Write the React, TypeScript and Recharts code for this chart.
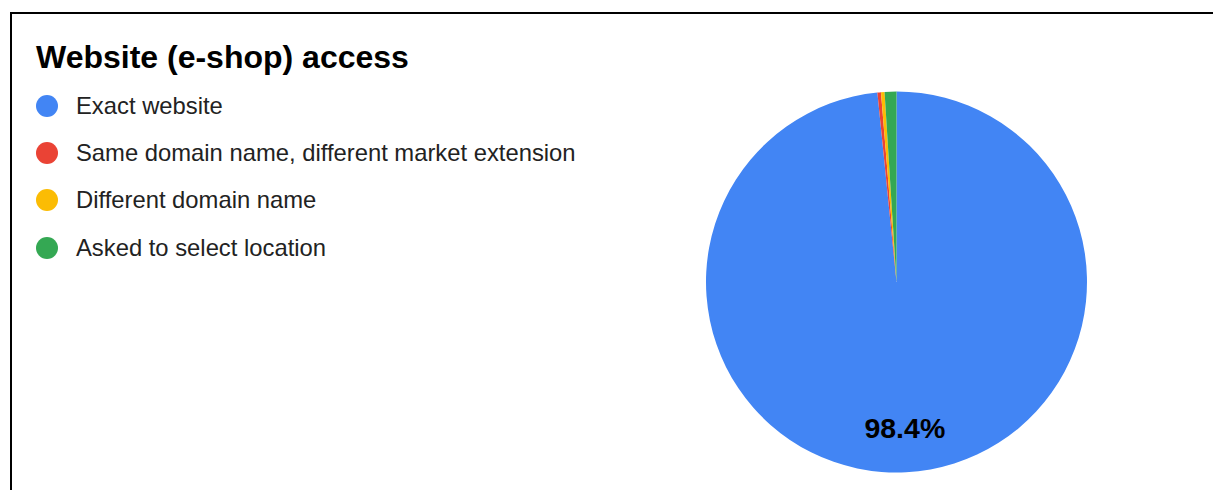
import React from 'react';
import { PieChart, Pie, Cell } from 'recharts';

const categories = [
  'Exact website',
  'Same domain name, different market extension',
  'Different domain name',
  'Asked to select location',
];
const shares = [98.4, 0.3, 0.3, 1.0];
const colors = ['#4285F4', '#EA4335', '#FBBC04', '#34A853'];

const data = categories.map((name, i) => ({ name, value: shares[i] }));

const RAD = Math.PI / 180;
const FONT = '"Liberation Sans", Arial, sans-serif';

const renderLabel = (props: any) => {
  const { cx, cy, midAngle, outerRadius, percent, index } = props;
  // only the big slice carries a label, like the original
  if (percent < 0.05) return null;
  const r = outerRadius * 0.767;
  const x = cx + r * Math.cos(-midAngle * RAD);
  const y = cy + r * Math.sin(-midAngle * RAD);
  return (
    <text
      key={`lbl-${index}`}
      x={x + 1}
      y={y}
      textAnchor="middle"
      dominantBaseline="central"
      fill="#000"
      fontFamily={FONT}
      fontWeight="bold"
      fontSize={28.5}
    >
      {`${(percent * 100).toFixed(1)}%`}
    </text>
  );
};

export default function App() {
  return (
    <div
      style={{
        position: 'absolute',
        left: 0,
        top: 0,
        width: 1213,
        height: 490,
        overflow: 'hidden',
        background: '#fff',
        fontFamily: FONT,
      }}
    >
      <div
        style={{
          position: 'absolute',
          left: 10,
          top: 12,
          width: 1300,
          height: 600,
          border: '2.5px solid #000',
          boxSizing: 'border-box',
        }}
      />
      <div
        style={{
          position: 'absolute',
          left: 36,
          top: 39,
          fontSize: 32,
          fontWeight: 'bold',
          color: '#000',
          lineHeight: '36px',
          whiteSpace: 'nowrap',
        }}
      >
        Website (e-shop) access
      </div>
      <div style={{ position: 'absolute', left: 36, top: 82 }}>
        {categories.map((c, i) => (
          <div
            key={c}
            style={{
              display: 'flex',
              alignItems: 'center',
              height: 47.3,
              whiteSpace: 'nowrap',
            }}
          >
            <span
              style={{
                width: 22,
                height: 22,
                borderRadius: '50%',
                background: colors[i],
                display: 'inline-block',
                marginRight: 18,
              }}
            />
            <span style={{ fontSize: 23.8, color: '#222' }}>{c}</span>
          </div>
        ))}
      </div>
      <div style={{ position: 'absolute', left: 0, top: 0 }}>
        <PieChart width={1213} height={490} margin={{ top: 0, right: 0, bottom: 0, left: 0 }}>
          <Pie
            data={data}
            dataKey="value"
            nameKey="name"
            cx={896.5}
            cy={282}
            outerRadius={190.5}
            startAngle={90}
            endAngle={-270}
            stroke="none"
            label={renderLabel}
            labelLine={false}
            isAnimationActive={false}
          >
            {data.map((d, i) => (
              <Cell key={d.name} fill={colors[i]} />
            ))}
          </Pie>
        </PieChart>
      </div>
    </div>
  );
}
